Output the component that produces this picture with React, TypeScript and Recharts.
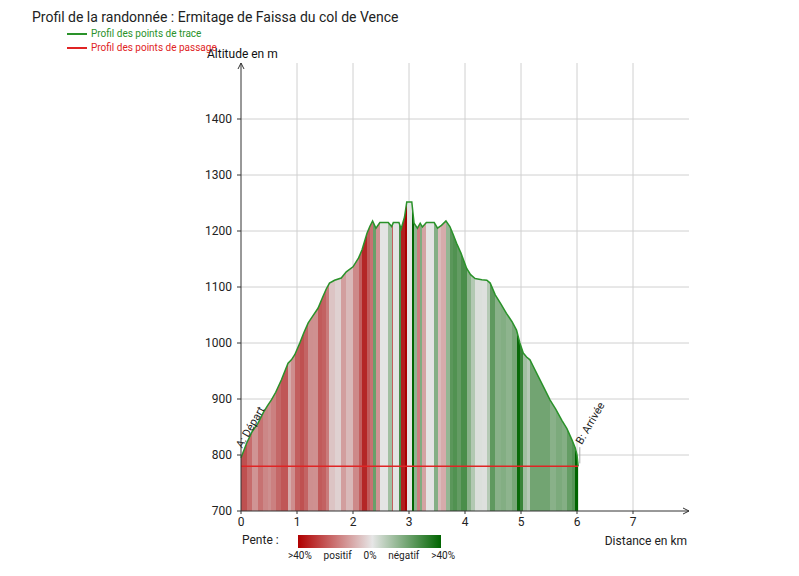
import React from "react";
import {
  ComposedChart,
  Area,
  Line,
  XAxis,
  YAxis,
  CartesianGrid,
  ReferenceDot,
  ReferenceLine,
  Label,
} from "recharts";

// profil : distance (km) / altitude (m)
const TRACE_KM = [
  0, 0.1, 0.2, 0.3, 0.4, 0.48, 0.54, 0.62, 0.72, 0.84, 0.9, 0.96, 1.05, 1.12,
  1.2, 1.28, 1.375, 1.45, 1.52, 1.58, 1.67, 1.79, 1.88, 2.0, 2.1, 2.16, 2.25,
  2.3, 2.35, 2.41, 2.48, 2.63, 2.69, 2.72, 2.82, 2.86, 2.92, 2.96, 3.05, 3.09,
  3.15, 3.2, 3.24, 3.31, 3.45, 3.51, 3.58, 3.66, 3.73, 3.78, 3.85, 3.93, 4.03,
  4.1, 4.18, 4.3, 4.39, 4.45, 4.54, 4.64, 4.74, 4.84, 4.92, 4.98, 5.04, 5.1,
  5.16, 5.22, 5.31, 5.42, 5.52, 5.62, 5.73, 5.82, 5.91, 5.97, 6.0, 6.02,
];
const TRACE_ALT = [
  795, 821, 842, 856, 876, 889, 898, 912, 934, 964, 970, 979, 1000, 1018,
  1036, 1048, 1062, 1080, 1096, 1107, 1112, 1116, 1127, 1136, 1152, 1166, 1196,
  1208, 1218, 1205, 1215, 1215, 1208, 1215, 1215, 1204, 1225, 1252, 1252, 1214,
  1205, 1214, 1207, 1215, 1215, 1205, 1210, 1218, 1208, 1196, 1178, 1160, 1133,
  1122, 1115, 1113, 1112, 1107, 1086, 1070, 1053, 1038, 1023, 1000, 982, 975,
  970, 958, 940, 918, 898, 882, 862, 847, 827, 812, 800, 780,
];
// points de passage (départ / arrivée)
const PASSAGE_ALT = [780, 780];
// repère de l'arrivée
const ARRIVEE_KM = 6.05;
const ARRIVEE_ALT = [785, 814];

const X_TICKS = [0, 1, 2, 3, 4, 5, 6, 7];
const Y_TICKS = [700, 800, 900, 1000, 1100, 1200, 1300, 1400];
const GRID_X = [1, 2, 3, 4, 5, 6, 7];
const GRID_Y = [800, 900, 1000, 1100, 1200, 1300, 1400];
const SLOPE_LABELS = [">40%", "positif", "0%", "négatif", ">40%"];

const TITLE = "Profil de la randonnée : Ermitage de Faissa du col de Vence";
const TRACE_NAME = "Profil des points de trace";
const PASSAGE_NAME = "Profil des points de passage";

const GREEN = "#2a922a";
const RED = "#e02424";
const FONT = "Roboto, 'Noto Sans', sans-serif";

const rows = TRACE_KM.map((km, i) => ({
  km,
  alt: TRACE_ALT[i],
  passage:
    i === 0 ? PASSAGE_ALT[0] : i === TRACE_KM.length - 1 ? PASSAGE_ALT[1] : undefined,
}));

const GRAY = [228, 228, 228];
const DARK_RED = [170, 0, 0];
const DARK_GREEN = [0, 100, 0];

function slopeColor(slope: number) {
  const t = Math.min(Math.abs(slope) / 0.4, 1);
  const end = slope >= 0 ? DARK_RED : DARK_GREEN;
  const c = GRAY.map((g, k) => Math.round(g + (end[k] - g) * t));
  return `rgb(${c[0]},${c[1]},${c[2]})`;
}

const kmMax = TRACE_KM[TRACE_KM.length - 1];
const slopeStops: { offset: number; color: string }[] = [];
for (let i = 0; i < TRACE_KM.length - 1; i++) {
  const dx = (TRACE_KM[i + 1] - TRACE_KM[i]) * 1000;
  const slope = (TRACE_ALT[i + 1] - TRACE_ALT[i]) / dx;
  const color = slopeColor(slope);
  slopeStops.push({ offset: TRACE_KM[i] / kmMax, color });
  slopeStops.push({ offset: TRACE_KM[i + 1] / kmMax, color });
}

function PointLabel({ viewBox, text, dx, dy }: any) {
  if (!viewBox) return null;
  const x = viewBox.x + viewBox.width / 2 + dx;
  const y = viewBox.y + viewBox.height / 2 + dy;
  return (
    <text
      x={x}
      y={y}
      transform={`rotate(-60 ${x} ${y})`}
      fontSize={11}
      fill="#222"
      fontFamily={FONT}
    >
      {text}
    </text>
  );
}

export default function App() {
  return (
    <div
      style={{
        position: "absolute",
        left: 0,
        top: 0,
        width: 799,
        height: 576,
        background: "#fff",
        fontFamily: FONT,
      }}
    >
      <div style={{ position: "absolute", left: 32, top: 9, fontSize: 14, color: "#222" }}>
        {TITLE}
      </div>
      <div style={{ position: "absolute", left: 67, top: 27, fontSize: 10, lineHeight: "14px" }}>
        <div style={{ display: "flex", alignItems: "center", color: GREEN }}>
          <span style={{ width: 20, height: 2, background: GREEN, marginRight: 4 }} />
          {TRACE_NAME}
        </div>
        <div style={{ display: "flex", alignItems: "center", color: RED }}>
          <span style={{ width: 20, height: 2, background: RED, marginRight: 4 }} />
          {PASSAGE_NAME}
        </div>
      </div>

      <ComposedChart
        width={799}
        height={576}
        data={rows}
        margin={{ top: 63, right: 110, bottom: 35, left: 181 }}
      >
        <defs>
          <linearGradient id="pente" x1="0" y1="0" x2="1" y2="0">
            {slopeStops.map((s, i) => (
              <stop key={i} offset={s.offset} stopColor={s.color} />
            ))}
          </linearGradient>
          <marker
            id="fleche"
            markerWidth="10"
            markerHeight="10"
            refX="7"
            refY="4"
            orient="auto-start-reverse"
            markerUnits="userSpaceOnUse"
          >
            <path d="M1,1 L7,4 L1,7" fill="none" stroke="#333" strokeWidth={1} />
          </marker>
        </defs>
        <CartesianGrid
          stroke="#d0d0d0"
          strokeWidth={1}
          verticalValues={GRID_X}
          horizontalValues={GRID_Y}
        />
        <XAxis
          dataKey="km"
          type="number"
          domain={[0, 8]}
          ticks={X_TICKS}
          tickSize={3}
          tickMargin={3}
          height={30}
          tick={{ fill: "#222", fontSize: 12, fontFamily: FONT }}
          axisLine={{ stroke: "#333", markerEnd: "url(#fleche)" }}
          tickLine={{ stroke: "#333" }}
        >
          <Label
            content={({ viewBox }: any) => (
              <text
                x={viewBox.x + viewBox.width - 2}
                y={viewBox.y + 34}
                textAnchor="end"
                fontSize={12}
                fill="#222"
                fontFamily={FONT}
              >
                Distance en km
              </text>
            )}
          />
        </XAxis>
        <YAxis
          type="number"
          domain={[700, 1500]}
          ticks={Y_TICKS}
          width={60}
          tickSize={4}
          tickMargin={5}
          tick={{ fill: "#222", fontSize: 12, fontFamily: FONT }}
          axisLine={{ stroke: "#333", markerStart: "url(#fleche)" }}
          tickLine={{ stroke: "#333" }}
        >
          <Label
            content={({ viewBox }: any) => (
              <text
                x={viewBox.x + viewBox.width - 34}
                y={viewBox.y - 5}
                fontSize={12}
                fill="#111"
                fontFamily={FONT}
              >
                Altitude en m
              </text>
            )}
          />
        </YAxis>
        <Area
          type="linear"
          dataKey="alt"
          name={TRACE_NAME}
          stroke={GREEN}
          strokeWidth={1.5}
          fill="url(#pente)"
          fillOpacity={1}
          isAnimationActive={false}
          dot={false}
          activeDot={false}
        />
        <Line
          type="linear"
          dataKey="passage"
          name={PASSAGE_NAME}
          stroke={RED}
          strokeWidth={1.5}
          connectNulls
          dot={false}
          activeDot={false}
          isAnimationActive={false}
        />
        <ReferenceLine
          segment={[
            { x: ARRIVEE_KM, y: ARRIVEE_ALT[0] },
            { x: ARRIVEE_KM, y: ARRIVEE_ALT[1] },
          ]}
          stroke="#aaa"
          strokeWidth={1}
        />
        <ReferenceDot
          x={TRACE_KM[0]}
          y={TRACE_ALT[0]}
          r={0}
          stroke="none"
          fill="none"
          label={<PointLabel text="A: Départ" dx={1} dy={-9} />}
        />
        <ReferenceDot
          x={ARRIVEE_KM}
          y={ARRIVEE_ALT[1]}
          r={0}
          stroke="none"
          fill="none"
          label={<PointLabel text="B: Arrivée" dx={2} dy={-2} />}
        />
      </ComposedChart>

      <div style={{ position: "absolute", left: 242, top: 533, fontSize: 12, color: "#222" }}>
        Pente :
      </div>
      <div
        style={{
          position: "absolute",
          left: 298,
          top: 535,
          width: 143,
          height: 13,
          background: "linear-gradient(to right, #b00000, #e6e6e6 52%, #006400)",
        }}
      />
      <div
        style={{
          position: "absolute",
          left: 288,
          top: 550,
          width: 167,
          display: "flex",
          justifyContent: "space-between",
          fontSize: 10,
          color: "#222",
        }}
      >
        {SLOPE_LABELS.map((l, i) => (
          <span key={i}>{l}</span>
        ))}
      </div>
    </div>
  );
}
